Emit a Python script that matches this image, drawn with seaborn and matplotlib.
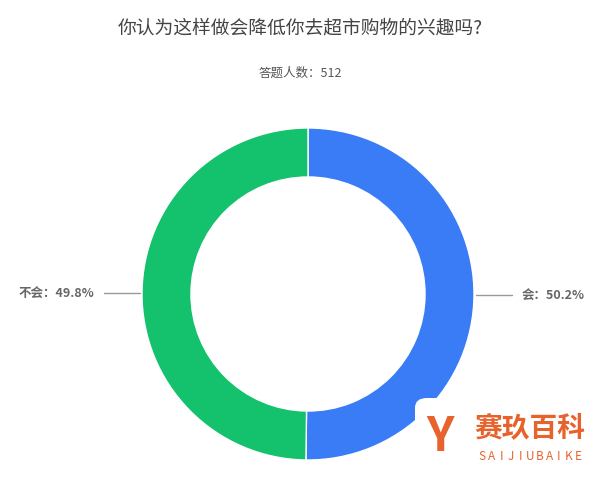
import numpy as np
import matplotlib.pyplot as plt
import seaborn as sns
from matplotlib.patches import FancyBboxPatch

# data
answers = ["会", "不会"]
shares = [50.2, 49.8]
respondents = 512
title = "你认为这样做会降低你去超市购物的兴趣吗?"
colors = ["#3a7bf6", "#14c16d"]

sns.set_theme(style="white")
plt.rcParams["font.family"] = ["Noto Sans CJK SC", "DejaVu Sans"]

fig = plt.figure(figsize=(6, 4.86), dpi=100)
W, H = 600, 486
cx, cy, r = 308, 294, 166
ax = fig.add_axes([(cx - r) / W, 1 - (cy + r) / H, 2 * r / W, 2 * r / H])
wedges, _ = ax.pie(shares, colors=colors, startangle=90, counterclock=False,
                   radius=1, wedgeprops=dict(width=0.295, edgecolor="white", linewidth=1))
ax.set_xlim(-1, 1)
ax.set_ylim(-1, 1)
ax.set_aspect("equal")
ax.axis("off")

for w, name, val in zip(wedges, answers, shares):
    ang = np.deg2rad((w.theta1 + w.theta2) / 2)
    x, y = np.cos(ang), np.sin(ang)
    side = np.sign(x)
    ax.plot([x * 1.01, side * 1.23], [y, y], color="#999999", lw=1, clip_on=False)
    ax.text(side * 1.29, y, f"{name}：{val}%", ha="left" if side > 0 else "right",
            va="center", fontsize=9, fontweight="bold", color="#666666", clip_on=False)

fig.text(0.5, 1 - 28 / H, title, ha="center", va="center", fontsize=13.5, color="#444444")
fig.text(0.5, 1 - 73 / H, f"答题人数：{respondents}", ha="center", va="center",
         fontsize=9, color="#555555")

# watermark
box = FancyBboxPatch((415 / W, 0), 185 / W, 88 / H, transform=fig.transFigure,
                     boxstyle="round,pad=0,rounding_size=0.02", facecolor="white",
                     edgecolor="none", zorder=5)
fig.add_artist(box)
fig.text(530 / W, 1 - 428 / H, "赛玖百科", ha="center", va="center", fontsize=20,
         fontweight="bold", color="#e8622c", zorder=6)
for i, ch in enumerate("SAIJIUBAIKE"):
    fig.text((482 + i * 9.6) / W, 1 - 456 / H, ch, ha="center", va="center",
             fontsize=8.5, color="#e8622c", zorder=6)
fig.text(440 / W, 1 - 437 / H, "Y", ha="center", va="center", fontsize=34,
         fontweight="bold", color="#e8622c", zorder=6)

fig.savefig("out.png", dpi=100)
